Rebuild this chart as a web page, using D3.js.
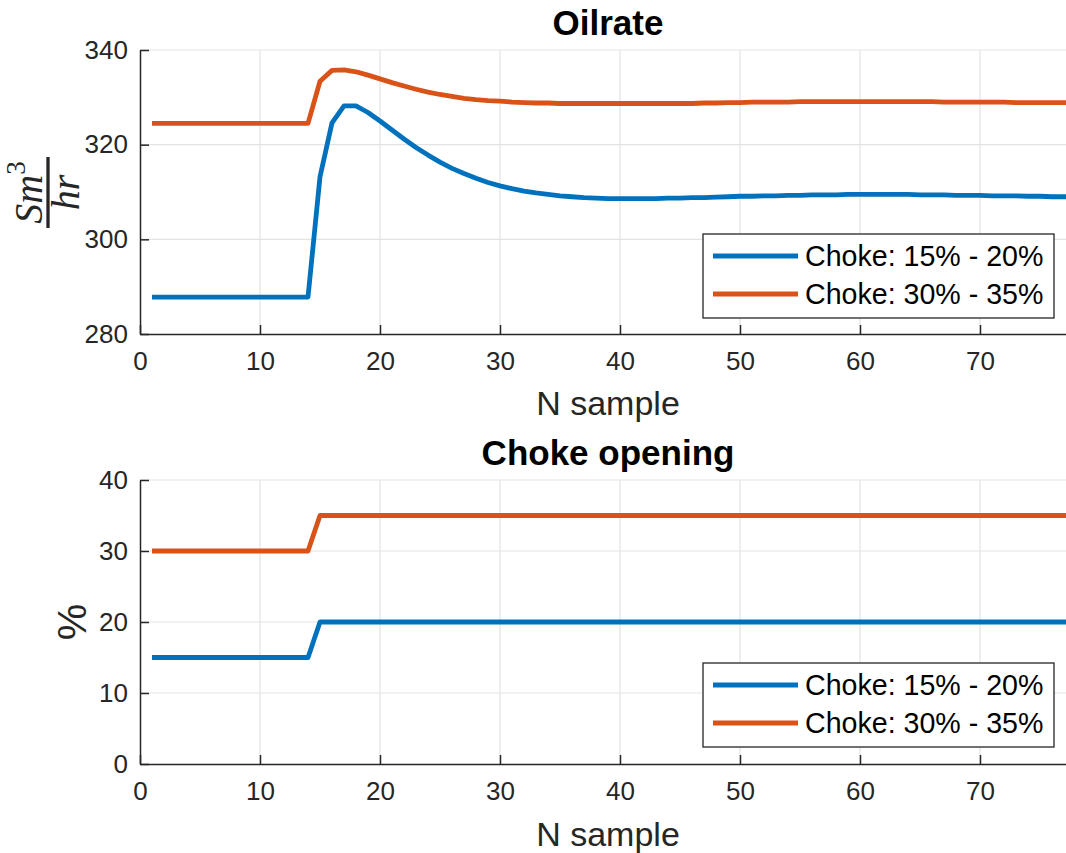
<!DOCTYPE html>
<html><head><meta charset="utf-8">
<script src="https://cdn.jsdelivr.net/npm/d3@7"></script>
<style>body{margin:0;background:#fff}svg{display:block}</style>
</head><body>
<script>
// ---- data ----
const samples = d3.range(1, 79);
const seriesNames = ["Choke: 15% - 20%", "Choke: 30% - 35%"];
const oilLow = [287.8,287.8,287.8,287.8,287.8,287.8,287.8,287.8,287.8,287.8,287.8,287.8,287.8,287.8,
  313.2,324.6,328.2,328.2,326.8,325.0,323.1,321.2,319.4,317.8,316.3,315.0,313.9,312.9,312.0,311.3,
  310.7,310.2,309.8,309.5,309.2,309.0,308.8,308.7,308.6,308.6,308.6,308.6,308.6,308.7,308.7,308.8,
  308.8,308.9,309.0,309.1,309.1,309.2,309.2,309.3,309.3,309.4,309.4,309.4,309.5,309.5,309.5,309.5,
  309.5,309.5,309.4,309.4,309.4,309.3,309.3,309.3,309.2,309.2,309.2,309.1,309.1,309.0,309.0,309.0];
const oilHigh = [324.5,324.5,324.5,324.5,324.5,324.5,324.5,324.5,324.5,324.5,324.5,324.5,324.5,324.5,
  333.4,335.7,335.8,335.4,334.7,333.9,333.1,332.4,331.7,331.1,330.6,330.2,329.8,329.5,329.3,329.2,
  329.0,328.9,328.8,328.8,328.7,328.7,328.7,328.7,328.7,328.7,328.7,328.7,328.7,328.7,328.7,328.7,
  328.8,328.8,328.9,328.9,329.0,329.0,329.0,329.0,329.1,329.1,329.1,329.1,329.1,329.1,329.1,329.1,
  329.1,329.1,329.1,329.1,329.0,329.0,329.0,329.0,329.0,329.0,328.9,328.9,328.9,328.9,328.9,328.9];
const chokeLow = [15,15,15,15,15,15,15,15,15,15,15,15,15,15,
  20,20,20,20,20,20,20,20,20,20,20,20,20,20,20,20,20,20,20,20,20,20,20,20,20,20,20,20,20,20,20,20,
  20,20,20,20,20,20,20,20,20,20,20,20,20,20,20,20,20,20,20,20,20,20,20,20,20,20,20,20,20,20,20,20];
const chokeHigh = [30,30,30,30,30,30,30,30,30,30,30,30,30,30,
  35,35,35,35,35,35,35,35,35,35,35,35,35,35,35,35,35,35,35,35,35,35,35,35,35,35,35,35,35,35,35,35,
  35,35,35,35,35,35,35,35,35,35,35,35,35,35,35,35,35,35,35,35,35,35,35,35,35,35,35,35,35,35,35,35];
const xTicks = [0,10,20,30,40,50,60,70];
const oilTicks = [280,300,320,340];
const chokeTicks = [0,10,20,30,40];
const colors = ["#0072BD", "#D95319"];

const W = 1066, H = 853;
const svg = d3.select("body").append("svg").attr("width", W).attr("height", H)
  .style("font-family", "'Liberation Sans', Arial, sans-serif");

function panel(cfg) {
  const x = d3.scaleLinear().domain([0, 78]).range([140, 1076]);
  const y = d3.scaleLinear().domain(cfg.ydom).range(cfg.yrange);
  const g = svg.append("g");
  // grid
  g.append("g").selectAll("line").data(xTicks.filter(t => t > 0)).join("line")
    .attr("x1", d => x(d)).attr("x2", d => x(d)).attr("y1", cfg.yrange[0]).attr("y2", cfg.yrange[1])
    .attr("stroke", "#e3e3e3").attr("stroke-width", 1.2);
  g.append("g").selectAll("line").data(cfg.yticks.filter(t => t > cfg.ydom[0])).join("line")
    .attr("x1", 140).attr("x2", 1076).attr("y1", d => y(d)).attr("y2", d => y(d))
    .attr("stroke", "#e3e3e3").attr("stroke-width", 1.2);
  // axes
  const xa = g.append("g").attr("transform", `translate(0,${cfg.yrange[0]})`)
    .call(d3.axisBottom(x).tickValues(xTicks).tickSizeInner(-9).tickSizeOuter(0).tickPadding(18));
  const ya = g.append("g").attr("transform", "translate(140,0)")
    .call(d3.axisLeft(y).tickValues(cfg.yticks).tickSizeInner(-9).tickSizeOuter(0).tickPadding(12));
  [xa, ya].forEach(a => {
    a.select(".domain").attr("stroke", "#262626").attr("stroke-width", 1.5);
    a.selectAll(".tick line").attr("stroke", "#262626").attr("stroke-width", 1.5);
    a.selectAll(".tick text").attr("fill", "#262626").style("font-size", "26px")
      .style("font-family", "'Liberation Sans', Arial, sans-serif");
  });
  // lines
  const line = d3.line().x((d, i) => x(samples[i])).y(d => y(d));
  cfg.series.forEach((s, i) => {
    g.append("path").datum(s).attr("d", line).attr("fill", "none")
      .attr("stroke", colors[i]).attr("stroke-width", 4.8)
      .attr("stroke-linejoin", "round");
  });
  // title
  g.append("text").attr("x", 608).attr("y", cfg.titleY).attr("text-anchor", "middle")
    .style("font-size", "35px").style("font-weight", "bold").attr("fill", "#000").text(cfg.title);
  // x label
  g.append("text").attr("x", 608).attr("y", cfg.xlabY).attr("text-anchor", "middle")
    .style("font-size", "34px").attr("fill", "#262626").text("N sample");
  // legend
  const lg = g.append("g");
  lg.append("rect").attr("x", 703).attr("y", cfg.legY).attr("width", 351).attr("height", 84)
    .attr("fill", "#fff").attr("stroke", "#262626").attr("stroke-width", 1.3);
  seriesNames.forEach((n, i) => {
    const yy = cfg.legY + 22 + i * 38;
    lg.append("line").attr("x1", 713).attr("x2", 798).attr("y1", yy).attr("y2", yy)
      .attr("stroke", colors[i]).attr("stroke-width", 4.8);
    lg.append("text").attr("x", 805).attr("y", yy + 10).style("font-size", "28.6px")
      .attr("fill", "#000").text(n);
  });
  return g;
}

panel({ydom: [280, 340], yrange: [334, 50], yticks: oilTicks, series: [oilLow, oilHigh],
  title: "Oilrate", titleY: 35, xlabY: 415, legY: 234});
panel({ydom: [0, 40], yrange: [764, 480], yticks: chokeTicks, series: [chokeLow, chokeHigh],
  title: "Choke opening", titleY: 465, xlabY: 846, legY: 663});

// y label top: Sm^3 / hr (rotated)
const yl = svg.append("g").attr("transform", "translate(48,192.5) rotate(-90)")
  .style("font-family", "'Liberation Serif', 'Times New Roman', serif");
yl.append("line").attr("x1", -35.5).attr("x2", 35.5).attr("y1", 0).attr("y2", 0)
  .attr("stroke", "#262626").attr("stroke-width", 3.3);
const num = yl.append("text").attr("x", 0).attr("y", -6).attr("text-anchor", "middle")
  .attr("fill", "#262626");
num.append("tspan").style("font-style", "italic").style("font-size", "40px").text("Sm");
num.append("tspan").style("font-size", "27px").attr("dy", -17).text("3");
yl.append("text").attr("x", 0).attr("y", 31).attr("text-anchor", "middle")
  .style("font-style", "italic").style("font-size", "40px").attr("fill", "#262626").text("hr");

// y label bottom: %
svg.append("text").attr("transform", "translate(86,622) rotate(-90)").attr("text-anchor", "middle")
  .style("font-size", "41px").attr("fill", "#262626").text("%");
</script>
</body></html>
